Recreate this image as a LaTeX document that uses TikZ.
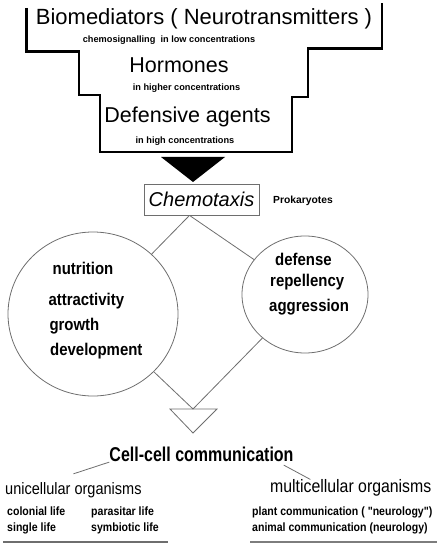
\documentclass[tikz,border=0pt]{standalone}
\usepackage{fontspec}
\setmainfont{Liberation Sans}
\newfontfamily\condsans[FakeStretch=0.88]{Liberation Sans}
\newfontfamily\narrowsans[FakeStretch=0.8]{Liberation Sans}
\usetikzlibrary{
    shapes.geometric,
    positioning,
    calc
}
\definecolor{linegray}{RGB}{110,110,110}
\definecolor{rulegray}{RGB}{125,125,125}
\tikzset{
    % Stairs
    stairline/.style={
        line width=2.6pt,
        draw=black,
        line join=miter
    },
    stairhead/.style={
        inner sep=0pt,
        anchor=base,
        font=\fontsize{21.5}{25}\selectfont
    },
    stairnote/.style={
        inner sep=0pt,
        anchor=base,
        font=\bfseries\fontsize{9.2}{11}\selectfont
    },
    % Boxes and circles
    tagbox/.style={
        rectangle,
        draw=linegray,
        line width=0.8pt,
        minimum width=115pt,
        minimum height=31pt,
        inner sep=0pt,
        font=\itshape\fontsize{20}{24}\selectfont
    },
    bubble/.style={
        ellipse,
        draw=linegray,
        line width=0.8pt,
        inner sep=0pt
    },
    bubbletext/.style={
        inner sep=0pt,
        anchor=base west,
        font=\condsans\bfseries\fontsize{17}{20}\selectfont
    },
    % Organisms
    grouptext/.style={
        inner sep=0pt,
        anchor=base west,
        font=\condsans\fontsize{16.5}{19}\selectfont
    },
    itemtext/.style={
        inner sep=0pt,
        anchor=base west,
        font=\condsans\bfseries\fontsize{12}{14}\selectfont
    },
    % Lines
    link/.style={
        draw=linegray,
        line width=0.8pt
    },
    baseline rule/.style={
        draw=rulegray,
        line width=1.6pt
    }
}

\begin{document}
\begin{tikzpicture}[x=1pt, y=-1pt]

    \useasboundingbox (0,0) rectangle (440,545);

    % Stairs
    \draw[stairline] (26.5,8) -- (26.5,51.5) -- (79,51.5) -- (79,95) -- (100,95)
        -- (100,152) -- (292,152) -- (292,97) -- (308,97) -- (308,48.5)
        -- (382,48.5) -- (382,3);

    \node[stairhead, font=\fontsize{22}{26}\selectfont] (biomed) at (204,25) {Biomediators ( Neurotransmitters )};
    \node[stairnote] (lownote) at (169,42.5) {chemosignalling\ \ in low concentrations};
    \node[stairhead] (hormones) at (179,73) {Hormones};
    \node[stairnote] (highernote) at (186.5,91) {in higher concentrations};
    \node[stairhead] (defensive) at (187.5,122.7) {Defensive agents};
    \node[stairnote] (highnote) at (185,143.5) {in high concentrations};

    % Funnel
    \fill (161,157) -- (225,157) -- (193,182) -- cycle;

    % Chemotaxis
    \node[tagbox] (chemo) at (201.5,199.5) {Chemotaxis};
    \node[inner sep=0pt, anchor=base west, font=\bfseries\fontsize{10.3}{12}\selectfont]
        (prokar) at (273,204) {Prokaryotes};
    \coordinate (fork) at ([xshift=-12pt]chemo.south);

    % Circles
    \node[bubble, minimum width=170pt, minimum height=164pt] (nutricirc) at (93,314) {};
    \node[bubble, minimum width=126pt, minimum height=117pt] (defcirc) at (305,294.5) {};

    \node[bubbletext] (nutrition) at (52.5,274.3) {nutrition};
    \node[bubbletext] (attract) at (48.3,305.5) {attractivity};
    \node[bubbletext] (growth) at (49.3,330) {growth};
    \node[bubbletext] (develop) at (50,355.5) {development};

    \node[bubbletext] (defense) at (275,265.7) {defense};
    \node[bubbletext] (repel) at (270,286.5) {repellency};
    \node[bubbletext] (aggress) at (269,311.7) {aggression};

    % Merge
    \coordinate (merge) at (193,409);
    \draw[link] ($(merge)+(-23,0)$) -- ($(merge)+(24,0)$) -- ($(merge)+(0,24)$) -- cycle;

    \draw[link] (fork) -- (nutricirc);
    \draw[link] (fork) -- (defcirc);
    \draw[link] (nutricirc) -- (merge);
    \draw[link] (defcirc) -- (merge);

    % Cell-cell communication
    \node[inner sep=0pt, anchor=base, font=\narrowsans\bfseries\fontsize{20}{24}\selectfont]
        (cellcomm) at (201.5,461.7) {Cell-cell communication};
    \node[grouptext] (unicell) at (5,494) {unicellular organisms};
    \node[grouptext, font=\condsans\fontsize{18}{21}\selectfont] (multicell) at (270,492.7) {multicellular organisms};

    \draw[link] (cellcomm.south west) -- ([yshift=8pt]unicell.north);
    \draw[link] ([xshift=-10pt,yshift=-3pt]cellcomm.south east) -- ($(multicell.north west)!0.5!(multicell.north)$);

    \node[itemtext] (colonial) at (7,515.3) {colonial life};
    \node[itemtext] (single) at (7,531.7) {single life};
    \node[itemtext] (parasit) at (91,515.3) {parasitar life};
    \node[itemtext] (symbiot) at (91,531.7) {symbiotic life};
    \node[itemtext] (plantcom) at (252,515.3) {plant communication ( "neurology")};
    \node[itemtext] (animalcom) at (252,531.7) {animal communication (neurology)};

    \coordinate (unirule) at (3,542);
    \coordinate (multirule) at (250,542);
    \draw[baseline rule, line width=1.2pt, draw=linegray] (unirule) -- ++(165,0);
    \draw[baseline rule] (multirule) -- ++(187,0);

\end{tikzpicture}
\end{document}
